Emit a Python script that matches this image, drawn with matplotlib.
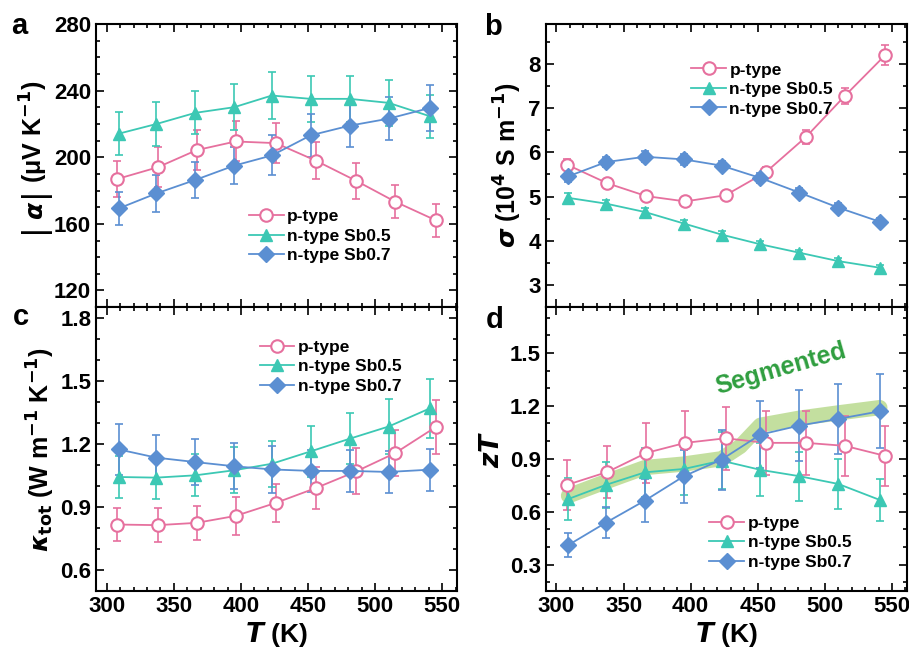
import numpy as np
import matplotlib
matplotlib.use("Agg")
import matplotlib.pyplot as plt
from matplotlib.ticker import MultipleLocator
from matplotlib.transforms import IdentityTransform

plt.rcParams['font.family'] = ['Liberation Sans', 'DejaVu Sans']
plt.rcParams['font.weight'] = 'bold'
plt.rcParams['mathtext.fontset'] = 'dejavusans'

# temperatures (K)
T_p = [308, 338, 367, 396, 426, 456, 486, 515, 545]
T_n = [309, 337, 366, 395, 423, 452, 481, 510, 541]

# Seebeck |alpha| (uV/K)
alpha_p = [187.0, 194.0, 204.3, 209.5, 208.5, 197.9, 185.8, 173.3, 162.2]
alpha_p_err = [11, 12, 12, 12, 12, 11, 11, 10, 10]
alpha_n5 = [214.2, 220.0, 226.7, 230.1, 237.1, 235.1, 235.1, 232.7, 224.6]
alpha_n5_err = [13, 13, 13, 14, 14, 14, 14, 14, 13]
alpha_n7 = [169.3, 178.3, 186.4, 195.0, 201.1, 213.2, 219.0, 223.2, 229.7]
alpha_n7_err = [10, 11, 11, 11, 12, 13, 13, 13, 14]

# electrical conductivity (1e4 S/m)
sigma_p = [5.72, 5.30, 5.01, 4.89, 5.03, 5.55, 6.35, 7.28, 8.20]
sigma_p_err = [0.12, 0.10, 0.10, 0.10, 0.10, 0.12, 0.15, 0.18, 0.22]
sigma_n5 = [4.97, 4.84, 4.65, 4.39, 4.14, 3.92, 3.73, 3.54, 3.39]
sigma_n5_err = [0.10, 0.08, 0.08, 0.08, 0.08, 0.08, 0.07, 0.07, 0.07]
sigma_n7 = [5.46, 5.78, 5.90, 5.84, 5.70, 5.42, 5.09, 4.75, 4.43]
sigma_n7_err = [0.12, 0.12, 0.12, 0.12, 0.11, 0.11, 0.10, 0.10, 0.09]

# total thermal conductivity (W/m/K)
kappa_p = [0.816, 0.813, 0.824, 0.857, 0.919, 0.990, 1.069, 1.156, 1.279]
kappa_p_err = [0.08, 0.08, 0.08, 0.09, 0.09, 0.10, 0.11, 0.11, 0.13]
kappa_n5 = [1.042, 1.039, 1.050, 1.074, 1.105, 1.164, 1.224, 1.282, 1.369]
kappa_n5_err = [0.10, 0.10, 0.10, 0.11, 0.11, 0.12, 0.12, 0.13, 0.14]
kappa_n7 = [1.173, 1.134, 1.113, 1.093, 1.078, 1.071, 1.071, 1.066, 1.077]
kappa_n7_err = [0.12, 0.11, 0.11, 0.11, 0.11, 0.10, 0.10, 0.10, 0.10]

# figure of merit zT
zT_p = [0.752, 0.825, 0.933, 0.990, 1.016, 0.990, 0.990, 0.973, 0.916]
zT_p_err = [0.14, 0.15, 0.17, 0.18, 0.18, 0.18, 0.18, 0.17, 0.17]
zT_n5 = [0.672, 0.752, 0.823, 0.842, 0.889, 0.837, 0.801, 0.757, 0.666]
zT_n5_err = [0.12, 0.13, 0.14, 0.15, 0.16, 0.15, 0.14, 0.14, 0.12]
zT_n7 = [0.411, 0.538, 0.663, 0.801, 0.895, 1.037, 1.088, 1.126, 1.169]
zT_n7_err = [0.07, 0.09, 0.12, 0.15, 0.17, 0.19, 0.20, 0.20, 0.21]

# segmented leg (guide band)
T_seg = [309, 337, 366, 395, 423, 437, 452, 481, 510, 541]
zT_seg = [0.69, 0.77, 0.85, 0.87, 0.90, 0.97, 1.09, 1.13, 1.16, 1.19]

labels = ["p-type", "n-type Sb0.5", "n-type Sb0.7"]
c_p = "#e6709e"
c_n5 = "#3cc8b4"
c_n7 = "#5b8fd2"


def draw(ax, p, pe, n5, n5e, n7, n7e):
    eb = dict(fmt="none", capsize=3, elinewidth=1.2, capthick=1.2)
    ax.errorbar(T_p, p, yerr=pe, ecolor=c_p, **eb)
    ax.errorbar(T_n, n5, yerr=n5e, ecolor=c_n5, **eb)
    ax.errorbar(T_n, n7, yerr=n7e, ecolor=c_n7, **eb)
    ax.plot(T_p, p, color=c_p, marker="o", ms=9, mfc="white",
            mec=c_p, mew=1.5, lw=1.3, label=labels[0])
    ax.plot(T_n, n5, color=c_n5, marker="^", ms=9, lw=1.3, label=labels[1])
    ax.plot(T_n, n7, color=c_n7, marker="D", ms=8, lw=1.3, label=labels[2])
    ax.set_xlim(292, 561)
    ax.xaxis.set_major_locator(MultipleLocator(50))
    ax.xaxis.set_minor_locator(MultipleLocator(10))
    ax.tick_params(which="both", direction="in", top=True, right=True,
                   labelsize=16, width=1.2)
    ax.tick_params(which="major", length=6)
    ax.tick_params(which="minor", length=3)
    for s in ax.spines.values():
        s.set_linewidth(1.5)
    for t in ax.get_xticklabels() + ax.get_yticklabels():
        t.set_fontweight("bold")


def legend(ax, loc, anchor):
    ax.legend(loc=loc, bbox_to_anchor=anchor, frameon=False,
              handlelength=2.0, handletextpad=0.2, labelspacing=0.25,
              prop={"weight": "bold", "size": 12.5})


fig = plt.figure(figsize=(9.09, 6.52), dpi=100)
L1, L2, W = 0.1056, 0.6003, 0.3972
ax_a = fig.add_axes([L1, 0.529, W, 0.434])
ax_b = fig.add_axes([L2, 0.529, W, 0.434])
ax_c = fig.add_axes([L1, 0.0936, W, 0.4354])
ax_d = fig.add_axes([L2, 0.0936, W, 0.4354])

# a
draw(ax_a, alpha_p, alpha_p_err, alpha_n5, alpha_n5_err, alpha_n7, alpha_n7_err)
ax_a.set_ylim(110, 280)
ax_a.yaxis.set_major_locator(MultipleLocator(40))
ax_a.yaxis.set_minor_locator(MultipleLocator(10))
ax_a.set_xticklabels([])
legend(ax_a, "lower left", (0.38, 0.1))

# y label of a built from pieces so the |..| bars can be tall
pieces = [("|", 24, "normal", 4), (r"$\alpha$", 18, "normal", 4),
          ("|", 24, "normal", 5), (r"(μV K$^{\mathbf{-1}}$)", 18, "bold", 0)]
ylab = []
for s, size, wt, gap in pieces:
    ylab.append(fig.text(0, 0, s, fontsize=size, fontweight=wt, rotation=90,
                         rotation_mode="anchor", ha="left", va="baseline",
                         transform=IdentityTransform()))
fig.canvas.draw()
rend = fig.canvas.get_renderer()
lens = [t.get_window_extent(rend).height for t in ylab]
total = sum(lens) + sum(p[3] for p in pieces)
y0 = 652 - 157 - total / 2
for t, L, p in zip(ylab, lens, pieces):
    t.set_position((43, y0))
    y0 += L + p[3]

# b
draw(ax_b, sigma_p, sigma_p_err, sigma_n5, sigma_n5_err, sigma_n7, sigma_n7_err)
ax_b.set_ylim(2.5, 8.9)
ax_b.yaxis.set_major_locator(MultipleLocator(1))
ax_b.yaxis.set_minor_locator(MultipleLocator(0.5))
ax_b.set_xticklabels([])
ax_b.set_ylabel(r"$\sigma$ (10$^{\mathbf{4}}$ S m$^{\mathbf{-1}}$)",
                fontsize=18, fontweight="bold", labelpad=3)
legend(ax_b, "upper left", (0.36, 0.92))

# c
draw(ax_c, kappa_p, kappa_p_err, kappa_n5, kappa_n5_err, kappa_n7, kappa_n7_err)
ax_c.set_ylim(0.5, 1.85)
ax_c.yaxis.set_major_locator(MultipleLocator(0.3))
ax_c.yaxis.set_minor_locator(MultipleLocator(0.1))
ax_c.set_ylabel(r"$\kappa_{\mathrm{tot}}$ (W m$^{\mathbf{-1}}$ K$^{\mathbf{-1}}$)",
                fontsize=18, fontweight="bold", labelpad=2)
ax_c.set_xlabel(r"$\bfit{T}$ (K)", fontsize=19, fontweight="bold", labelpad=2)
legend(ax_c, "upper left", (0.41, 0.94))

# d
ax_d.plot(T_seg, zT_seg, color="#a4cf6c", lw=11, alpha=0.65,
          solid_capstyle="round", solid_joinstyle="round", zorder=1)
draw(ax_d, zT_p, zT_p_err, zT_n5, zT_n5_err, zT_n7, zT_n7_err)
ax_d.set_ylim(0.15, 1.76)
ax_d.yaxis.set_major_locator(MultipleLocator(0.3))
ax_d.yaxis.set_minor_locator(MultipleLocator(0.1))
ax_d.set_ylabel(r"$\bfit{zT}$", fontsize=19, fontweight="bold", labelpad=4)
ax_d.set_xlabel(r"$\bfit{T}$ (K)", fontsize=19, fontweight="bold", labelpad=2)
ax_d.text(467, 1.41, "Segmented", color="#2f9e3f", fontsize=18,
          fontweight="bold", rotation=16, ha="center", va="center")
legend(ax_d, "lower left", (0.41, 0.02))

letter_pos = [(-0.235, 0.995), (-0.17, 0.99), (-0.23, 0.965), (-0.165, 0.955)]
for ax, letter, (lx, ly) in zip([ax_a, ax_b, ax_c, ax_d], "abcd", letter_pos):
    ax.text(lx, ly, letter, transform=ax.transAxes, fontsize=21,
            fontweight="bold", ha="left", va="center")

fig.savefig("out.png", dpi=100)
